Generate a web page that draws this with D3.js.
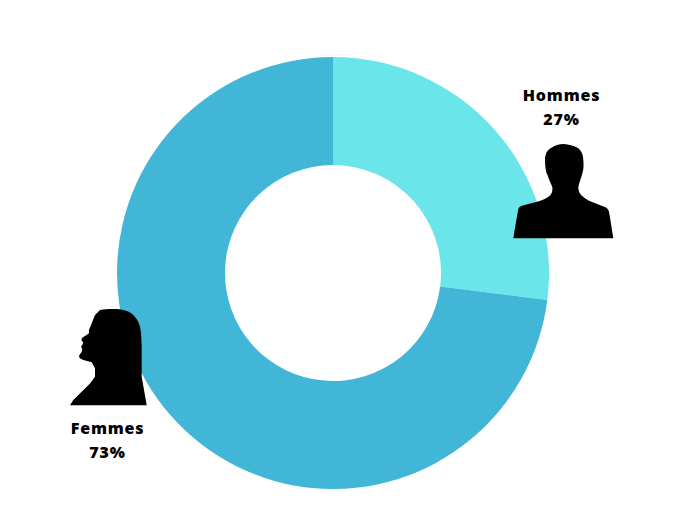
<!DOCTYPE html>
<html><head><meta charset="utf-8">
<script src="https://cdn.jsdelivr.net/npm/d3@7"></script>
<style>html,body{margin:0;padding:0;background:#fff}svg{display:block}</style></head>
<body><svg id="c" width="680" height="529"></svg>
<script>
const categories = ["Hommes", "Femmes"];
const values = [27, 73];
const colors = ["#6ae6ea", "#41b6d6"];
const labelPos = [[561.5, 101], [107.5, 434]];

const manIcon = "M513.3 238.3L516 222L518.3 209Q519 206.5 521.7 205.7L538 201.5Q546 199 550.5 195Q552.8 192 552.5 188C551.5 184 549 180.5 547.5 175C545.8 173 545 166 545 158.3C545.5 153 548 149.5 551 148C555 145.5 559 144 563.3 144C569 144.5 575 146 578.3 148.3C581.5 151 583.3 155 583.3 160C583.8 165 583.5 170 582.7 172C581 179 578.5 184 578.3 188.3Q578.5 192 581 195Q584 198 589 200.7L606 207.5Q608.7 209 609.3 213.3L613.3 238.3Z";
const womanIcon = "M70 405.3L73.3 400L90 383.5L95 376.7L95 368.3L91.7 362.3L83.3 360L79.7 358.3L79 355.7L81.7 351.7L82.3 349L81 346.7L82.3 345L83.3 342.3L81.7 341L81.7 338.3L89 333.3L89 330L91.7 323.3L95 315L100 310C105 309 111 308.7 116.7 309C123 309.5 128 311 131.7 313.5C136 317 139 322 140 326.7C141.5 333 141.3 340 141.7 346.7L141.7 376.7L146.7 405.3Z";

const svg = d3.select("#c");
const cx = 333, cy = 273, outer = 216, inner = 108;
const pie = d3.pie().sort(null).value(d => d);
const arc = d3.arc().innerRadius(inner).outerRadius(outer);

svg.append("g").attr("transform", `translate(${cx},${cy})`)
  .selectAll("path").data(pie(values)).join("path")
  .attr("d", arc)
  .attr("fill", (d, i) => colors[i]);

svg.selectAll("path.icon").data([manIcon, womanIcon]).join("path")
  .attr("class", "icon").attr("d", d => d).attr("fill", "#000");

const labels = svg.selectAll("g.lab").data(categories).join("g")
  .attr("class", "lab")
  .attr("transform", (d, i) => `translate(${labelPos[i][0]},${labelPos[i][1]})`)
  .attr("font-family", "'Open Sans'").attr("font-weight", 800).attr("font-size", 16)
  .attr("letter-spacing", 0.8)
  .attr("text-anchor", "middle").attr("fill", "#000");
labels.append("text").text(d => d);
labels.append("text").attr("y", 24).text((d, i) => values[i] + "%");
</script></body></html>
